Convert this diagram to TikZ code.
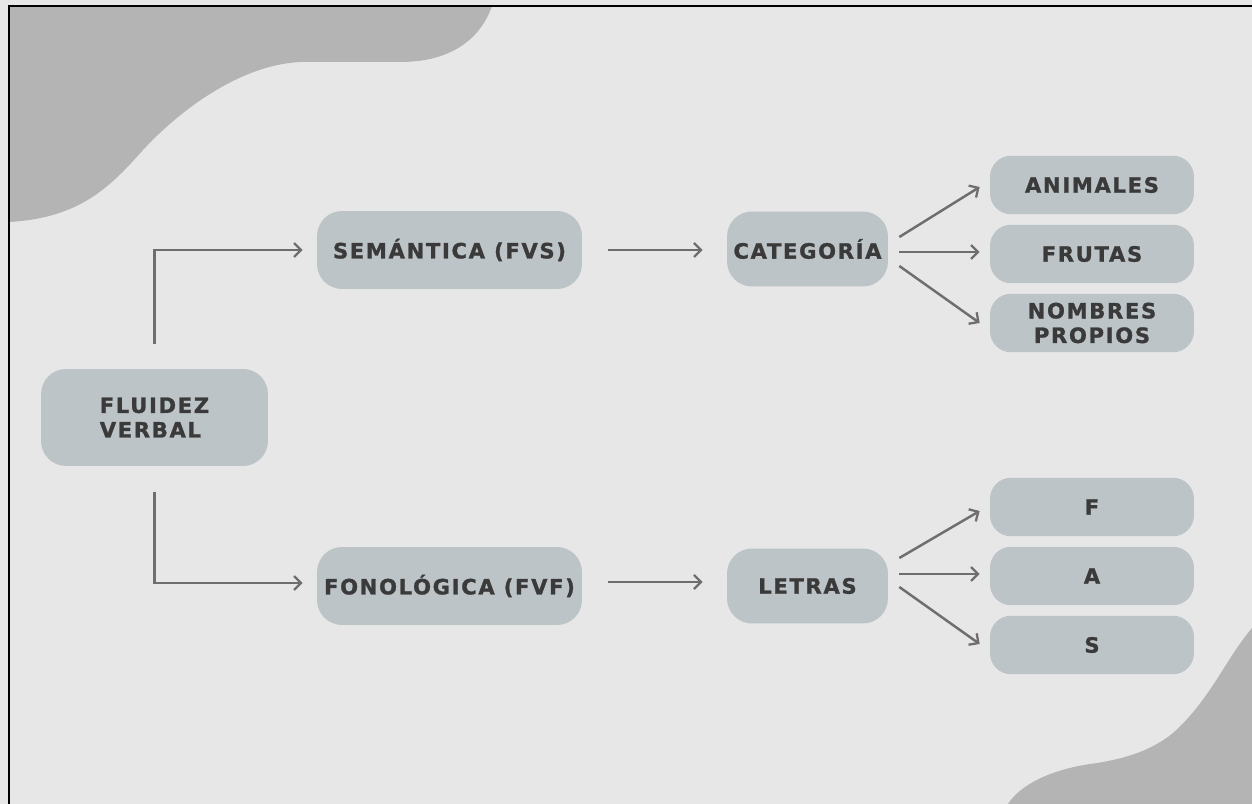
\documentclass[tikz,border=0pt]{standalone}
\usepackage{fontspec}
\setmainfont{DejaVu Sans}
\usetikzlibrary{arrows.meta,calc}
\definecolor{bgpaper}{HTML}{E7E7E7}
\definecolor{blob}{HTML}{B4B4B4}
\definecolor{boxfill}{HTML}{BCC4C7}
\definecolor{boxtext}{HTML}{3A3A3A}
\definecolor{linkgray}{HTML}{6E6E6E}
\begin{document}
\begin{tikzpicture}[x=0.02cm,y=-0.02cm,
  card/.style={fill=boxfill, rounded corners=0.5cm, inner sep=0pt, align=center,
    text=boxtext, font=\bfseries\addfontfeature{LetterSpace=8,FakeBold=1.2}\fontsize{12}{14}\selectfont},
  bigcard/.style={card, minimum width=5.3cm, minimum height=1.56cm},
  midcard/.style={card, minimum width=3.22cm, minimum height=1.5cm},
  leafcard/.style={card, rounded corners=0.42cm, minimum width=4.08cm, minimum height=1.17cm},
  link/.style={draw=linkgray, line width=1.4pt, -{Straight Barb[length=4pt,width=8pt,line width=1.3pt]}}
]
% canvas and frame
\useasboundingbox (0,0) rectangle (1252,804);
\fill[bgpaper] (0,0) rectangle (1252,804);
% decorative blobs
\fill[blob] (9,6) -- (492,6) .. controls (480,40) and (450,62) .. (400,62)
  -- (300,62) .. controls (240,65) and (180,110) .. (143,150)
  .. controls (110,187) and (80,218) .. (9,222) -- cycle;
\fill[blob] (1252,628) .. controls (1225,660) and (1210,700) .. (1173,733)
  .. controls (1150,752) and (1120,760) .. (1090,764)
  .. controls (1050,770) and (1020,785) .. (1008,804) -- (1252,804) -- cycle;
\draw[black, line width=1.7pt] (9,804) -- (9,6) -- (1252,6);

% nodes
\node[bigcard, align=left, minimum width=4.54cm, minimum height=1.94cm] (flu) at (154.5,417.5) {FLUIDEZ\\VERBAL};
\node[bigcard] (sem) at (449.5,250) {SEMÁNTICA (FVS)};
\node[bigcard] (fon) at (449.5,586) {FONOLÓGICA (FVF)};
\node[midcard] (cat) at (807.5,249) {CATEGORÍA};
\node[midcard] (let) at (807.5,586) {LETRAS};
\node[leafcard] (ani) at (1092,185) {ANIMALES};
\node[leafcard] (fru) at (1092,254) {FRUTAS};
\node[leafcard] (nom) at (1092,323) {NOMBRES\\PROPIOS};
\node[leafcard] (lf) at (1092,507) {F};
\node[leafcard] (la) at (1092,576) {A};
\node[leafcard] (ls) at (1092,645) {S};

% connectors
\draw[link] ($(flu.north)+(0,-25)$) |- ($(sem.west)+(-14,0)$);
\draw[link] ($(flu.south)+(0,26)$) |- ($(fon.west)+(-14,-3)$);
\draw[link] ($(sem.east)+(26,0)$) -- ($(cat.west)+(-24,1)$);
\draw[link] ($(fon.east)+(26,-4)$) -- ($(let.west)+(-24,-4)$);

\draw[link] ($(cat.east)+(11,-12)$) -- ($(ani.west)+(-10,2)$);
\draw[link] ($(cat.east)+(11,3)$) -- ($(fru.west)+(-10,-2)$);
\draw[link] ($(cat.east)+(11,17)$) -- ($(nom.west)+(-10,0)$);

\draw[link] ($(let.east)+(11,-28)$) -- ($(lf.west)+(-10,4)$);
\draw[link] ($(let.east)+(11,-12)$) -- ($(la.west)+(-10,-2)$);
\draw[link] ($(let.east)+(11,1)$) -- ($(ls.west)+(-10,-1)$);
\end{tikzpicture}
\end{document}
